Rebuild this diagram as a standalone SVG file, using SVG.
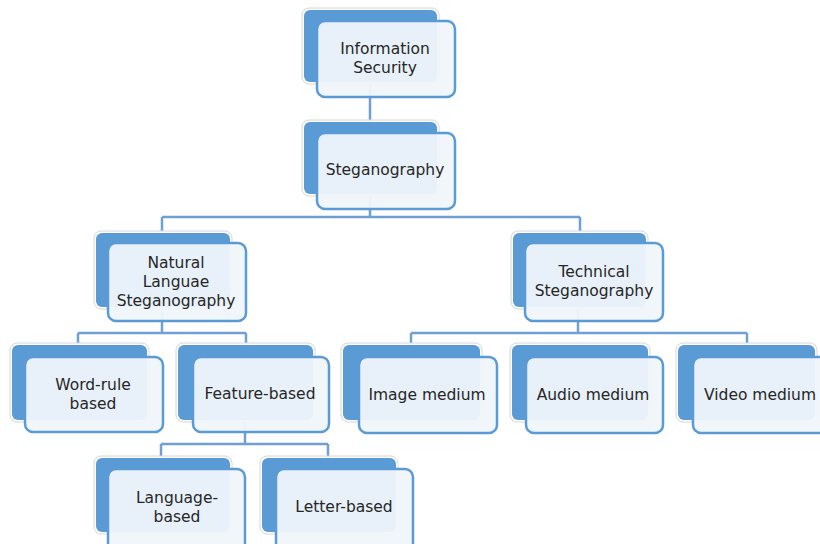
<svg xmlns="http://www.w3.org/2000/svg" width="820" height="544" viewBox="0 0 820 544">
<style>
.halo{fill:#fff;stroke:#d6d6d6;stroke-width:1}
.back{fill:#5b9bd5}
.front{fill:#f0f5fb;fill-opacity:0.95;stroke:#5b9bd5;stroke-width:2.5}
.conn{fill:none;stroke:#6f9fd3;stroke-width:2.5}
text{font-family:"DejaVu Sans","Liberation Sans",sans-serif;font-size:15.5px;fill:#262626;text-anchor:middle}
</style>
<rect width="820" height="544" fill="#fff"/>
<g id="connectors">
<path class="conn" d="M370 82V122M370 194V217M162 217H580M162 217V233M580 217V233"/>
<path class="conn" d="M162 307V333M78 333H246M78 333V345M246 333V345"/>
<path class="conn" d="M578 307V333M411 333H747M411 333V345M747 333V345"/>
<path class="conn" d="M245 420V444M161 444H328M161 444V458M328 444V458"/>
</g>
<g id="n-infosec">
<rect class="halo" x="302" y="8" width="137" height="76" rx="7"/>
<rect class="back" x="304" y="10" width="133" height="72" rx="6"/>
<rect class="front" x="317" y="21" width="138" height="76" rx="8"/>
<text x="385" y="54">Information</text><text x="385" y="73">Security</text>
</g>
<g id="n-steg">
<rect class="halo" x="302" y="120" width="137" height="76" rx="7"/>
<rect class="back" x="304" y="122" width="133" height="72" rx="6"/>
<rect class="front" x="317" y="133" width="138" height="76" rx="8"/>
<text x="385" y="175">Steganography</text>
</g>
<g id="n-natural">
<rect class="halo" x="94" y="231" width="138" height="78" rx="7"/>
<rect class="back" x="96" y="233" width="134" height="74" rx="6"/>
<rect class="front" x="108" y="243" width="138" height="78" rx="8"/>
<text x="176" y="268">Natural</text><text x="176" y="287">Languae</text><text x="176" y="306">Steganography</text>
</g>
<g id="n-technical">
<rect class="halo" x="511" y="231" width="137" height="78" rx="7"/>
<rect class="back" x="513" y="233" width="133" height="74" rx="6"/>
<rect class="front" x="525" y="243" width="138" height="78" rx="8"/>
<text x="594" y="277">Technical</text><text x="594" y="296">Steganography</text>
</g>
<g id="n-wordrule">
<rect class="halo" x="10" y="343" width="139" height="79" rx="7"/>
<rect class="back" x="12" y="345" width="135" height="75" rx="6"/>
<rect class="front" x="25" y="357" width="138" height="75" rx="8"/>
<text x="93" y="390">Word-rule</text><text x="93" y="409">based</text>
</g>
<g id="n-feature">
<rect class="halo" x="176" y="343" width="139" height="79" rx="7"/>
<rect class="back" x="178" y="345" width="135" height="75" rx="6"/>
<rect class="front" x="193" y="357" width="136" height="75" rx="8"/>
<text x="260" y="399">Feature-based</text>
</g>
<g id="n-image">
<rect class="halo" x="341" y="343" width="141" height="79" rx="7"/>
<rect class="back" x="343" y="345" width="137" height="75" rx="6"/>
<rect class="front" x="359" y="357" width="138" height="76" rx="8"/>
<text x="427" y="400">Image medium</text>
</g>
<g id="n-audio">
<rect class="halo" x="510" y="343" width="140" height="79" rx="7"/>
<rect class="back" x="512" y="345" width="136" height="75" rx="6"/>
<rect class="front" x="526" y="357" width="137" height="76" rx="8"/>
<text x="593" y="400">Audio medium</text>
</g>
<g id="n-video">
<rect class="halo" x="676" y="343" width="141" height="79" rx="7"/>
<rect class="back" x="678" y="345" width="137" height="75" rx="6"/>
<rect class="front" x="693" y="357" width="138" height="76" rx="8"/>
<text x="760" y="400">Video medium</text>
</g>
<g id="n-language">
<rect class="halo" x="94" y="456" width="138" height="78" rx="7"/>
<rect class="back" x="96" y="458" width="134" height="74" rx="6"/>
<rect class="front" x="108" y="469" width="137" height="82" rx="8"/>
<text x="177" y="503">Language-</text><text x="177" y="522">based</text>
</g>
<g id="n-letter">
<rect class="halo" x="260" y="456" width="138" height="78" rx="7"/>
<rect class="back" x="262" y="458" width="134" height="74" rx="6"/>
<rect class="front" x="276" y="469" width="137" height="82" rx="8"/>
<text x="344" y="512">Letter-based</text>
</g>
</svg>
